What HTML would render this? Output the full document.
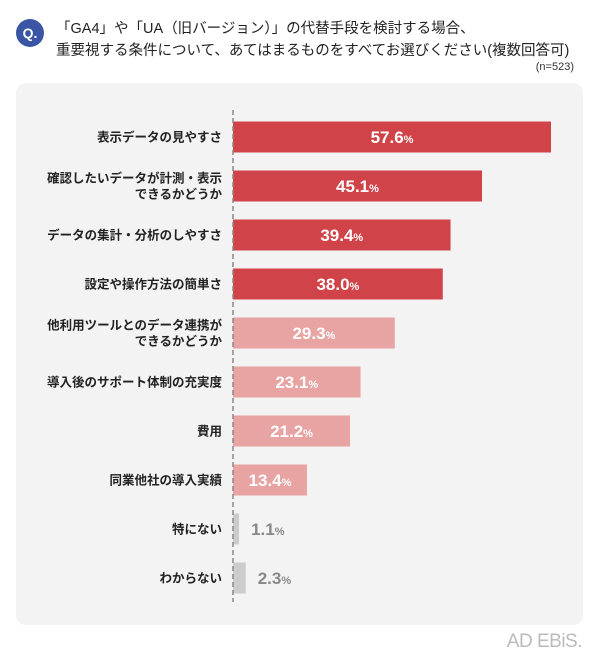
<!DOCTYPE html>
<html><head><meta charset="utf-8"><style>
body{margin:0;width:600px;height:663px;background:#fff;font-family:"Liberation Sans","Noto Sans CJK JP",sans-serif;position:relative;overflow:hidden}
.t{position:absolute;left:56px;font-size:14.5px;color:#222;line-height:22px}
</style></head><body>
<div style="position:absolute;left:16px;top:19px;width:28px;height:28px;border-radius:50%;background:#3a55a4;color:#fff;font-weight:bold;font-size:14px;line-height:28px;text-align:center">Q.</div>
<div class="t" style="top:18px">「GA4」や「UA（旧バージョン）」の代替手段を検討する場合、<br>重要視する条件について、あてはまるものをすべてお選びください(複数回答可)</div>
<div style="position:absolute;right:26px;top:61px;font-size:11px;color:#333">(n=523)</div>
<div style="position:absolute;left:16px;top:83px;width:567px;height:542px;background:#f3f3f3;border-radius:10px"></div>
<svg id="c" width="600" height="663" style="position:absolute;left:0;top:0"></svg>
<div style="position:absolute;right:18px;top:631px;font-size:19px;color:#bbb;letter-spacing:-0.5px">AD EBiS.</div>
<script>
const categories=["表示データの見やすさ","確認したいデータが計測・表示|できるかどうか","データの集計・分析のしやすさ","設定や操作方法の簡単さ","他利用ツールとのデータ連携が|できるかどうか","導入後のサポート体制の充実度","費用","同業他社の導入実績","特にない","わからない"];
const values=[57.6,45.1,39.4,38.0,29.3,23.1,21.2,13.4,1.1,2.3];
const tiers=["top","top","top","top","mid","mid","mid","mid","none","none"];
const svg=document.getElementById('c');const NS="http://www.w3.org/2000/svg";
const x0=233,scale=318/57.6,y0=137,step=49.0,bh=31;
const xs=v=>x0+v*scale, ys=i=>y0+i*step;
const fill={top:"#d04348",mid:"#e8a3a3",none:"#cccccc"};
function mk(t,a){const e=document.createElementNS(NS,t);for(const k in a)e.setAttribute(k,a[k]);svg.appendChild(e);return e;}
values.forEach((v,i)=>{
 const cy=ys(i);
 const r=mk('rect',{x:x0,y:cy-bh/2,width:xs(v)-x0,height:bh,fill:fill[tiers[i]]});
 
 
 const lines=categories[i].split('|');
 lines.forEach((l,j)=>{
  const t=mk('text',{x:222,y:cy+4.5+(j-(lines.length-1)/2)*16,'text-anchor':'end','font-size':12.5,'font-weight':'bold',fill:'#222'});
  t.textContent=l;
  
  
 });
 const inside=tiers[i]!=="none";
 const tx=inside?(x0+xs(v))/2:xs(v)+12;
 const vt=mk('text',{x:tx,y:cy+6,'text-anchor':inside?'middle':'start','font-size':17,'font-weight':'bold',fill:inside?'#fff':'#888'});
 vt.innerHTML=v.toFixed(1)+'<tspan font-size="11">%</tspan>';
 
 
});
const ax=mk('line',{x1:x0,y1:110,x2:x0,y2:602,stroke:'#888','stroke-width':1.5,'stroke-dasharray':'5,3'});


</script>
</body></html>
